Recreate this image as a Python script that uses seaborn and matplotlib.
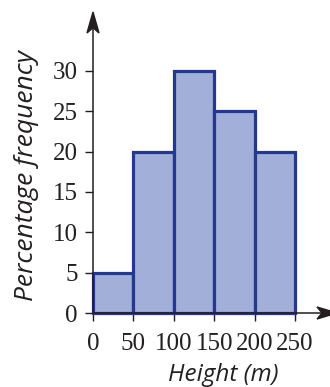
import matplotlib
matplotlib.use("Agg")
import matplotlib.pyplot as plt
from matplotlib.patches import Polygon
from matplotlib import font_manager
import seaborn as sns

bin_edges = [0, 50, 100, 150, 200, 250]
percent = [5, 20, 30, 25, 20]
xticks = [0, 50, 100, 150, 200, 250]
yticks = [0, 5, 10, 15, 20, 25, 30]

sns.set_style("white")
avail = {f.name for f in font_manager.fontManager.ttflist}
serif = next((n for n in ["Liberation Serif", "Times New Roman", "DejaVu Serif"] if n in avail), "DejaVu Serif")
plt.rcParams['font.family'] = [serif, 'DejaVu Serif']
label_font = ["Open Sans", "DejaVu Sans"]

W, H = 330, 387
fig = plt.figure(figsize=(W/100, H/100), dpi=100)
x0, y0 = 93, 313          # pixel position of data origin
x1, y1 = 329, 13          # top/right extents of axes box
ax = fig.add_axes([x0/W, 1 - y0/H, (x1 - x0)/W, (y0 - y1)/H])

mids = [(bin_edges[i] + bin_edges[i+1]) / 2 for i in range(len(percent))]
sns.histplot(x=mids, weights=percent, bins=bin_edges, ax=ax,
             color="#a2afd9", alpha=1.0, edgecolor="#22398f", linewidth=2.3,
             clip_on=False, zorder=3)

px_per_x = (295 - 93) / 250
px_per_y = (313 - 71) / 30
ax.set_xlim(0, (x1 - x0) / px_per_x)
ax.set_ylim(0, (y0 - y1) / px_per_y)

for s in ["top", "right", "left", "bottom"]:
    ax.spines[s].set_visible(False)

axis_col = "#231f20"
# axis lines
fig.add_artist(plt.Line2D([x0/W, x0/W], [1 - y0/H, 1 - 28/H], color=axis_col, lw=1.1,
                          transform=fig.transFigure, zorder=1))
fig.add_artist(plt.Line2D([x0/W, 1.0], [1 - y0/H, 1 - y0/H], color=axis_col, lw=1.1,
                          transform=fig.transFigure, zorder=1))

def head(tip, back, half):
    # stealth-like arrowhead, given in pixels
    tx, ty = tip
    dx, dy = back[0] - tx, back[1] - ty
    L = (dx**2 + dy**2) ** 0.5
    ux, uy = dx / L, dy / L
    nx, ny = -uy, ux
    pts = [(tx, ty),
           (back[0] + nx*half, back[1] + ny*half),
           (tx + ux*L*0.75, ty + uy*L*0.75),
           (back[0] - nx*half, back[1] - ny*half)]
    pts = [(p[0]/W, 1 - p[1]/H) for p in pts]
    fig.add_artist(Polygon(pts, closed=True, color=axis_col, transform=fig.transFigure, zorder=2))

head((93, 12), (93, 33), 6)
head((337, 313), (317, 313), 6)

ax.set_xticks(xticks)
ax.set_yticks(yticks)
ax.set_xticklabels([str(t) for t in xticks])
ax.set_yticklabels([str(t) for t in yticks])
ax.tick_params(axis="both", which="both", direction="out", length=6, width=1,
               color=axis_col, labelsize=18, labelcolor=axis_col, pad=5,
               bottom=True, left=True)
ax.tick_params(axis="x", pad=8.5)

ax.set_xlabel("Height (m)", family=label_font, style="italic",
              fontsize=17.5, color=axis_col)
ax.xaxis.set_label_coords((223 - x0) / (x1 - x0), -(375 - y0) / (y0 - y1))
ax.xaxis.label.set_va("center")
ax.set_ylabel("Percentage frequency", family=label_font,
              style="italic", fontsize=19, color=axis_col)
ax.yaxis.set_label_coords(-(x0 - 27) / (x1 - x0), (y0 - 176) / (y0 - y1))
ax.yaxis.label.set_va("center")

fig.savefig("out.png", dpi=100)
